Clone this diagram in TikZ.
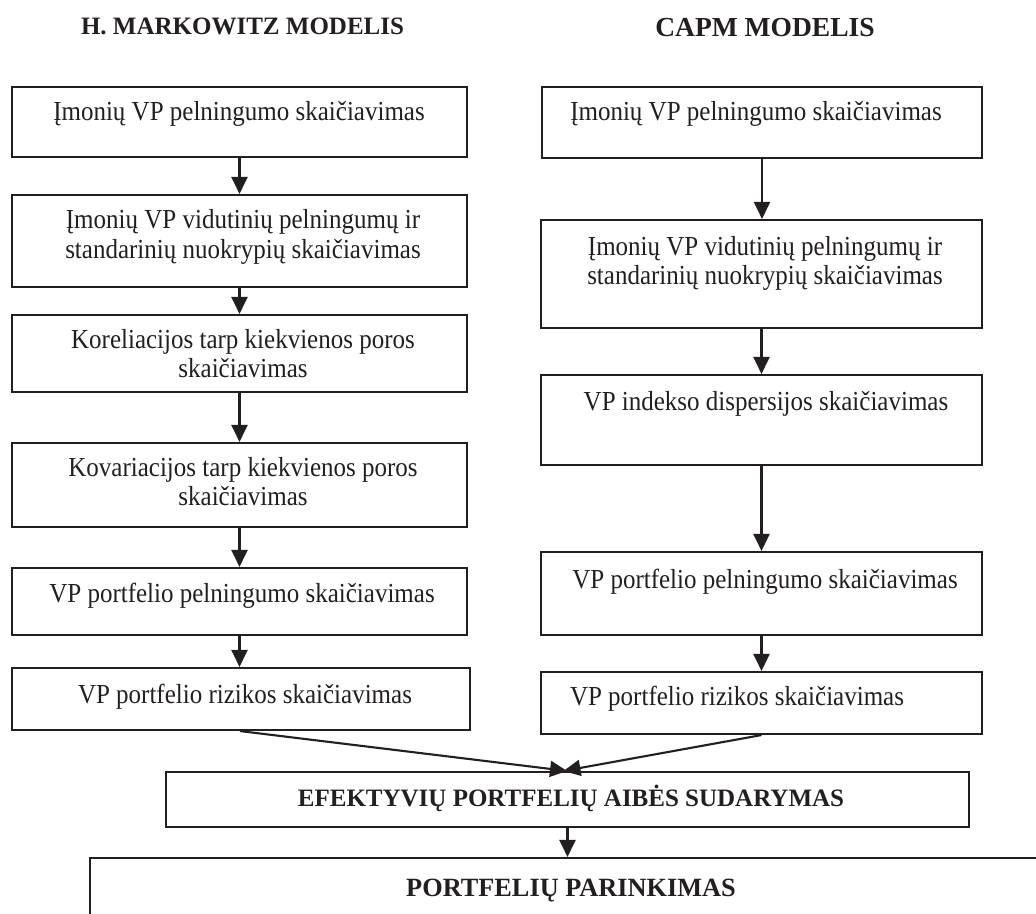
\documentclass[tikz,border=0pt]{standalone}
\usepackage{fontspec}
\setmainfont{Liberation Serif}
\usetikzlibrary{arrows.meta,calc}
\definecolor{ink}{RGB}{35,31,32}
% regular step text is set slightly taller than wide
\newcommand{\tall}[1]{\scalebox{1}[1.1]{#1}}
\tikzset{
  box/.style={draw=ink, line width=2.1pt, rectangle, inner sep=0pt},
  txt/.style={text=ink, anchor=base, inner sep=0pt, font=\fontsize{25}{30}\selectfont},
  btxt/.style={txt, font=\fontsize{25}{30}\selectfont\bfseries},
  arr/.style={draw=ink, line width=2.1pt, -{Triangle[length=17pt,width=16pt]}},
}
\begin{document}
\begin{tikzpicture}[x=1pt, y=-1pt]
\clip (0,0) rectangle (1036,913);
\useasboundingbox (0,0) rectangle (1036,913);
\fill[white] (0,0) rectangle (1036,913);

% column headings
\node[btxt] (hm) at (242.5,34) {H. MARKOWITZ MODELIS};
\node[btxt, font=\fontsize{27.5}{32}\selectfont\bfseries] (hc) at (765,36) {CAPM MODELIS};

% Markowitz column
\node[box, minimum width=455pt, minimum height=70pt] (L1) at (239.5,122) {};
\node[box, minimum width=455pt, minimum height=92pt] (L2) at (239.5,241) {};
\node[box, minimum width=455pt, minimum height=77pt] (L3) at (239.5,353.5) {};
\node[box, minimum width=455pt, minimum height=84pt] (L4) at (239.5,485) {};
\node[box, minimum width=455pt, minimum height=67pt] (L5) at (239.5,601.5) {};
\node[box, minimum width=458pt, minimum height=62pt] (L6) at (241,699) {};

\node[txt] (tL1) at (239,120) {\tall{Įmonių VP pelningumo skaičiavimas}};
\node[txt] (tL2a) at (243,228) {\tall{Įmonių VP vidutinių pelningumų ir}};
\node[txt] (tL2b) at (243,258) {\tall{standarinių nuokrypių skaičiavimas}};
\node[txt] (tL3a) at (243,348) {\tall{Koreliacijos tarp kiekvienos poros}};
\node[txt] (tL3b) at (243,377) {\tall{skaičiavimas}};
\node[txt] (tL4a) at (243,476) {\tall{Kovariacijos tarp kiekvienos poros}};
\node[txt] (tL4b) at (243,505) {\tall{skaičiavimas}};
\node[txt] (tL5) at (242,602) {\tall{VP portfelio pelningumo skaičiavimas}};
\node[txt] (tL6) at (245,703) {\tall{VP portfelio rizikos skaičiavimas}};

% CAPM column
\node[box, minimum width=440pt, minimum height=71pt] (R1) at (762,122.5) {};
\node[box, minimum width=441pt, minimum height=108pt] (R2) at (761.5,274) {};
\node[box, minimum width=441pt, minimum height=90pt] (R3) at (761.5,420) {};
\node[box, minimum width=441pt, minimum height=83pt] (R4) at (761.5,593.5) {};
\node[box, minimum width=441pt, minimum height=62pt] (R5) at (761.5,703) {};

\node[txt] (tR1) at (756,120) {\tall{Įmonių VP pelningumo skaičiavimas}};
\node[txt] (tR2a) at (765,255) {\tall{Įmonių VP vidutinių pelningumų ir}};
\node[txt] (tR2b) at (765,284) {\tall{standarinių nuokrypių skaičiavimas}};
\node[txt] (tR3) at (766,410) {\tall{VP indekso dispersijos skaičiavimas}};
\node[txt] (tR4) at (765,588) {\tall{VP portfelio pelningumo skaičiavimas}};
\node[txt] (tR5) at (737,705) {\tall{VP portfelio rizikos skaičiavimas}};

% common steps
\node[box, minimum width=803pt, minimum height=55pt] (E) at (567.5,799.5) {};
\node[btxt] (tE) at (571,806) {EFEKTYVIŲ PORTFELIŲ AIBĖS SUDARYMAS};
\node[box, minimum width=962pt, minimum height=102pt] (P) at (571,909) {};
\node[btxt, font=\fontsize{26.3}{31}\selectfont\bfseries] (tP) at (571,896) {PORTFELIŲ PARINKIMAS};

% connectors
\draw[arr] (L1.south) -- (L1.south |- L2.north);
\draw[arr] (L2.south) -- (L2.south |- L3.north);
\draw[arr] (L3.south) -- (L3.south |- L4.north);
\draw[arr] (L4.south) -- (L4.south |- L5.north);
\draw[arr] (L5.south) -- (L5.south |- L6.north);
\draw[arr] (R1.south) -- (R1.south |- R2.north);
\draw[arr] (R2.south) -- (R2.south |- R3.north);
\draw[arr] (R3.south) -- (R3.south |- R4.north);
\draw[arr] (R4.south) -- (R4.south |- R5.north);
\draw[arr] ([xshift=-1pt]L6.south) -- ([xshift=-0.5pt]E.north);
\draw[arr] (R5.south) -- ([xshift=-4pt]E.north);
\draw[arr] (E.south) -- (E.south |- P.north);
\end{tikzpicture}
\end{document}
